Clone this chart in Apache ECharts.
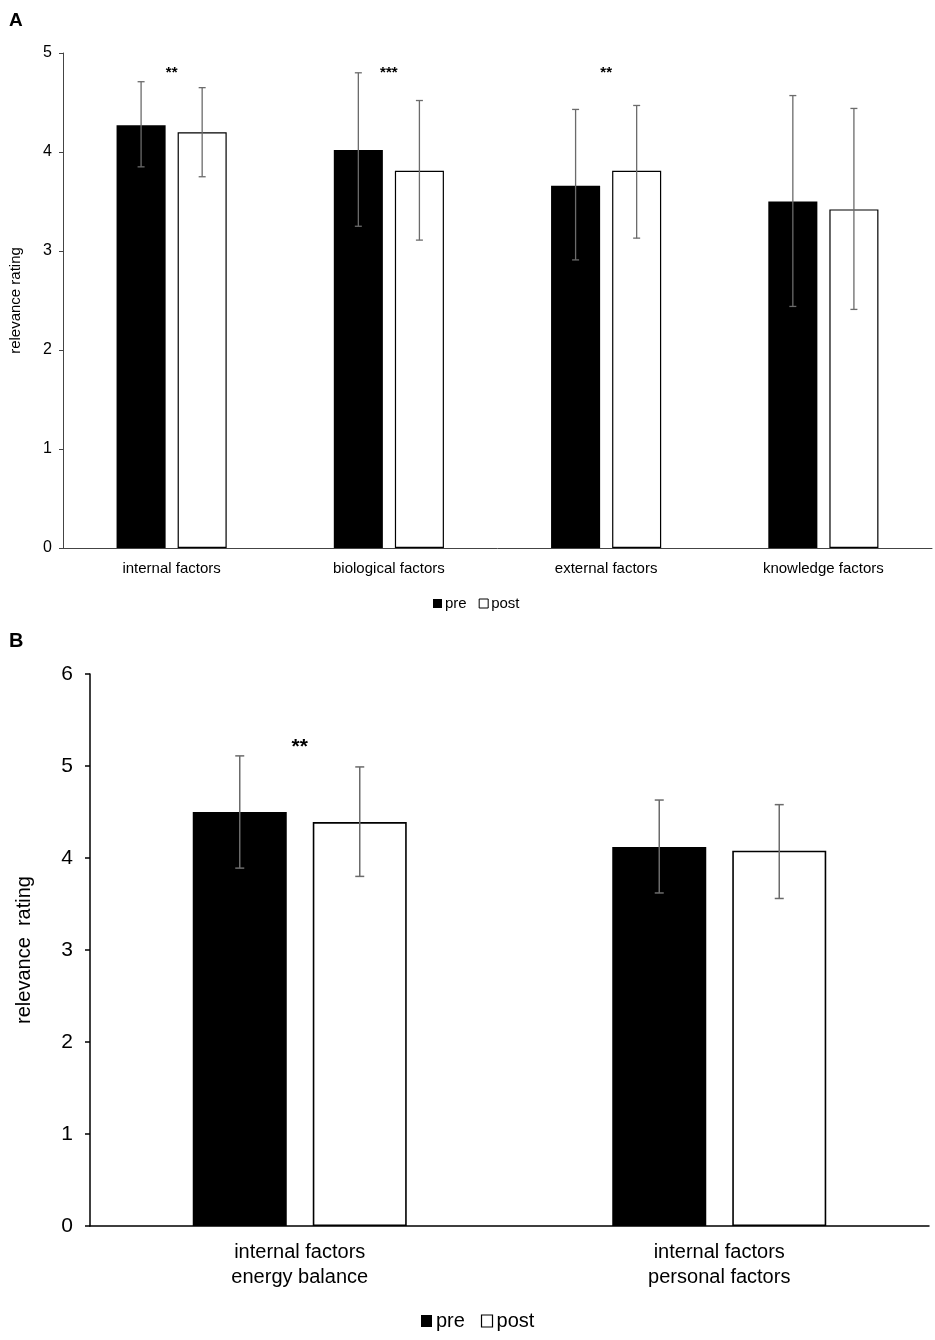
<!DOCTYPE html>
<html>
<head>
<meta charset="utf-8">
<script src="https://cdn.jsdelivr.net/npm/echarts@6/dist/echarts.min.js"></script>
<style>
  html, body { margin: 0; padding: 0; background: #fff; }
  #main { width: 935px; height: 1340px; }
</style>
</head>
<body>
<div id="main"></div>
<script>
// panel A data
const catsA = ['internal factors', 'biological factors', 'external factors', 'knowledge factors'];
const preA = [4.27, 4.02, 3.66, 3.50];
const preLowA = [3.85, 3.25, 2.91, 2.44];
const preHighA = [4.71, 4.80, 4.43, 4.57];
const postA = [4.20, 3.81, 3.81, 3.42];
const postLowA = [3.75, 3.11, 3.13, 2.41];
const postHighA = [4.65, 4.52, 4.47, 4.44];
const starsA = ['**', '***', '**', ''];
const starLevelA = [4.80, 4.80, 4.80, 4.80];

// panel B data
const catsB = ['internal factors\nenergy balance', 'internal factors\npersonal factors'];
const preB = [4.50, 4.12];
const preLowB = [3.89, 3.62];
const preHighB = [5.11, 4.63];
const postB = [4.39, 4.08];
const postLowB = [3.80, 3.56];
const postHighB = [4.99, 4.58];
const starsB = ['**', ''];
const starLevelB = [5.20, 5.20];

const FONT = 'Liberation Sans, Arial, sans-serif';

// error bar drawn next to its bar: side -1 = pre, +1 = post
function errorBar(side, barFrac, gapFrac, cap, width) {
  return function (params, api) {
    const band = api.size([1, 0])[0];
    const w = band * barFrac;
    const off = side * (w + w * gapFrac) / 2;
    const lo = api.coord([api.value(0), api.value(1)]);
    const hi = api.coord([api.value(0), api.value(2)]);
    const x = lo[0] + off;
    const style = { stroke: '#6b6b6b', lineWidth: width };
    return {
      type: 'group',
      children: [
        { type: 'line', shape: { x1: x, y1: lo[1], x2: x, y2: hi[1] }, style: style },
        { type: 'line', shape: { x1: x - cap, y1: lo[1], x2: x + cap, y2: lo[1] }, style: style },
        { type: 'line', shape: { x1: x - cap, y1: hi[1], x2: x + cap, y2: hi[1] }, style: style }
      ]
    };
  };
}

function zipErr(low, high) {
  return low.map((v, i) => [i, v, high[i]]);
}

// significance stars at a data position
function starRender(list, size) {
  return function (params, api) {
    const p = api.coord([api.value(0), api.value(1)]);
    return {
      type: 'text',
      x: p[0], y: p[1],
      style: {
        text: list[params.dataIndex],
        fill: '#000', font: 'bold ' + size + 'px ' + FONT,
        align: 'center', verticalAlign: 'middle'
      }
    };
  };
}

const chart = echarts.init(document.getElementById('main'));

const barA = 49 / 217, gapA = 12 / 49;
const barB = 94 / 419.5, gapB = 26 / 94;

chart.setOption({
  backgroundColor: '#fff',
  animation: false,
  textStyle: { fontFamily: FONT },
  title: [
    { text: 'A', left: 4, top: 6, textStyle: { fontSize: 19, fontWeight: 'bold', color: '#000' } },
    { text: 'B', left: 4, top: 626, textStyle: { fontSize: 20, fontWeight: 'bold', color: '#000' } }
  ],
  legend: [
    {
      left: 428, top: 591, itemWidth: 9, itemHeight: 9, itemGap: 12,
      textStyle: { fontSize: 15, color: '#000', padding: [0, 0, 0, -2] },
      data: [
        { name: 'pre', icon: 'rect', itemStyle: { color: '#000', borderWidth: 0 } },
        { name: 'post', icon: 'rect', itemStyle: { color: '#fff', borderColor: '#000', borderWidth: 1 } }
      ],
      selectedMode: false
    },
    {
      left: 416, top: 1306, itemWidth: 11, itemHeight: 12, itemGap: 16,
      textStyle: { fontSize: 20, color: '#000', padding: [0, 0, 0, -1] },
      data: [
        { name: 'pre', icon: 'rect', itemStyle: { color: '#000', borderWidth: 0 } },
        { name: 'post', icon: 'rect', itemStyle: { color: '#fff', borderColor: '#000', borderWidth: 1.2 } }
      ],
      selectedMode: false
    }
  ],
  grid: [
    { left: 62, right: 3, top: 53, height: 495 },
    { left: 90, right: 6, top: 674, height: 552 }
  ],
  xAxis: [
    {
      type: 'category', gridIndex: 0, data: catsA,
      axisLine: { lineStyle: { color: '#444', width: 1 } },
      axisTick: { show: false },
      axisLabel: { color: '#000', fontSize: 15, margin: 13 }
    },
    {
      type: 'category', gridIndex: 1, data: catsB,
      axisLine: { lineStyle: { color: '#000', width: 1.5 } },
      axisTick: { show: false },
      axisLabel: { color: '#000', fontSize: 20, lineHeight: 25, margin: 14 }
    }
  ],
  yAxis: [
    {
      type: 'value', gridIndex: 0, min: 0, max: 5, interval: 1,
      name: 'relevance rating', nameLocation: 'middle', nameGap: 40,
      nameTextStyle: { color: '#000', fontSize: 15 },
      axisLine: { show: true, lineStyle: { color: '#444', width: 1 } },
      axisTick: { show: true, length: 4, lineStyle: { color: '#444' } },
      axisLabel: { color: '#000', fontSize: 16, margin: 11 },
      splitLine: { show: false }
    },
    {
      type: 'value', gridIndex: 1, min: 0, max: 6, interval: 1,
      name: 'relevance  rating', nameLocation: 'middle', nameGap: 56,
      nameTextStyle: { color: '#000', fontSize: 20 },
      axisLine: { show: true, lineStyle: { color: '#000', width: 1.5 } },
      axisTick: { show: true, length: 5, lineStyle: { color: '#000', width: 1.5 } },
      axisLabel: { color: '#000', fontSize: 21, margin: 17 },
      splitLine: { show: false }
    }
  ],
  series: [
    {
      name: 'pre', type: 'bar', xAxisIndex: 0, yAxisIndex: 0, data: preA,
      barWidth: (barA * 100) + '%', barGap: (gapA * 100) + '%',
      itemStyle: { color: '#000' }
    },
    {
      name: 'post', type: 'bar', xAxisIndex: 0, yAxisIndex: 0, data: postA,
      barWidth: (barA * 100) + '%', barGap: (gapA * 100) + '%',
      itemStyle: { color: '#fff', borderColor: '#000', borderWidth: 1.2 }
    },
    {
      type: 'custom', xAxisIndex: 0, yAxisIndex: 0, z: 5,
      renderItem: errorBar(-1, barA, gapA, 3.5, 1.3), data: zipErr(preLowA, preHighA)
    },
    {
      type: 'custom', xAxisIndex: 0, yAxisIndex: 0, z: 5,
      renderItem: errorBar(1, barA, gapA, 3.5, 1.3), data: zipErr(postLowA, postHighA)
    },
    {
      type: 'custom', xAxisIndex: 0, yAxisIndex: 0, z: 6,
      renderItem: starRender(starsA, 15), data: starLevelA.map((v, i) => [i, v])
    },
    {
      name: 'pre', type: 'bar', xAxisIndex: 1, yAxisIndex: 1, data: preB,
      barWidth: (barB * 100) + '%', barGap: (gapB * 100) + '%',
      itemStyle: { color: '#000' }
    },
    {
      name: 'post', type: 'bar', xAxisIndex: 1, yAxisIndex: 1, data: postB,
      barWidth: (barB * 100) + '%', barGap: (gapB * 100) + '%',
      itemStyle: { color: '#fff', borderColor: '#000', borderWidth: 1.6 }
    },
    {
      type: 'custom', xAxisIndex: 1, yAxisIndex: 1, z: 5,
      renderItem: errorBar(-1, barB, gapB, 4.5, 1.5), data: zipErr(preLowB, preHighB)
    },
    {
      type: 'custom', xAxisIndex: 1, yAxisIndex: 1, z: 5,
      renderItem: errorBar(1, barB, gapB, 4.5, 1.5), data: zipErr(postLowB, postHighB)
    },
    {
      type: 'custom', xAxisIndex: 1, yAxisIndex: 1, z: 6,
      renderItem: starRender(starsB, 21), data: starLevelB.map((v, i) => [i, v])
    }
  ]
});
</script>
</body>
</html>
